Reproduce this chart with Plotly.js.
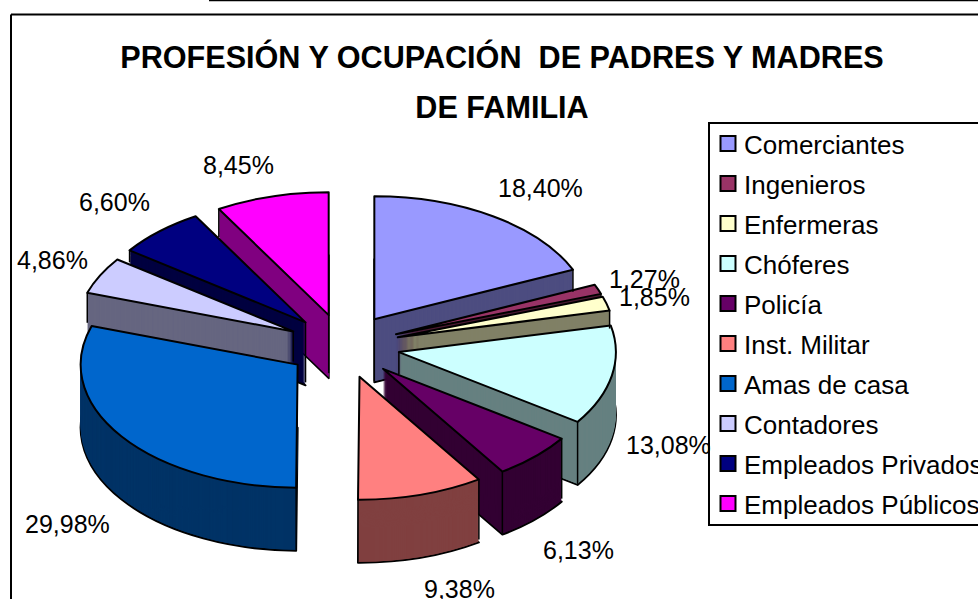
<!DOCTYPE html>
<html><head><meta charset="utf-8">
<script src="https://cdn.plot.ly/plotly-3.0.1.min.js"></script>
<style>html,body{margin:0;padding:0;background:#fff;overflow:hidden}
#c{width:978px;height:599px}
.pielayer path{vector-effect:non-scaling-stroke}</style></head>
<body><div id="c"></div>
<script>
const categories=["Comerciantes","Ingenieros","Enfermeras","Chóferes","Policía","Inst. Militar","Amas de casa","Contadores","Empleados Privados","Empleados Públicos"];
const percentages=[18.40,1.27,1.85,13.08,6.13,9.38,29.98,4.86,6.60,8.45];
const topColors=["#9999FF","#993366","#FFFFCC","#CCFFFF","#660066","#FF8080","#0066CC","#CCCCFF","#000080","#FF00FF"];
const sideColors=["#4D4D80","#4D1A33","#808066","#668080","#330033","#804040","#003366","#666680","#000040","#800080"];
const labelPositions=[[540,188],[644,279],[654,297],[668,445],[578,550],[459,589],[67,524],[52,260],[114,202],[238,165]];
// visible length of the vertical wall edge at each slice's [start corner, end corner, tip]; 0 = hidden
const edgeLengths=[[0,22,62],[0,4,0],[0,18,0],[0,62,22],[60,62,0],[60,62,0],[62,0,0],[30,0,30],[12,0,60],[28,0,58]];
const W=978,H=599,explode=0.26,depth=63;
const rx=217,ry=123,cx=343.5,cy=346;
const px=x=>x/W, py=y=>1-y/H;

const traces=[];
for(let k=depth;k>=0;k--){
  const isTop=k===0,isBottom=k===depth;
  traces.push({type:'pie',labels:categories,values:percentages,sort:false,direction:'clockwise',rotation:0,
    pull:explode,textinfo:'none',hoverinfo:isTop?'label+percent':'skip',showlegend:isTop,
    domain:{x:[0,1],y:[0,1]},
    marker:{colors:isTop?topColors:sideColors,line:{color:isTop||isBottom?'#000':'rgba(0,0,0,0)',width:isTop||isBottom?2:0}}});
}
const annotations=percentages.map((v,i)=>({xref:'paper',yref:'paper',x:px(labelPositions[i][0]),y:py(labelPositions[i][1]),
  xanchor:'center',yanchor:'middle',showarrow:false,text:v.toFixed(2).replace('.',',')+'%',font:{size:25,color:'#000'}}));
const line=(x0,y0,x1,y1,w)=>({type:'line',xref:'paper',yref:'paper',x0:px(x0),y0:py(y0),x1:px(x1),y1:py(y1),line:{color:'#000',width:w}});
// vertical wall edges, derived from the slice angles
const edges=[];
{
  const total=percentages.reduce((a,b)=>a+b,0);let acc=0;
  percentages.forEach((v,i)=>{
    const t1=acc/total*2*Math.PI,t2=(acc+v)/total*2*Math.PI,m=(t1+t2)/2;acc+=v;
    const tx=cx+rx*explode*Math.sin(m),ty=cy-ry*explode*Math.cos(m);
    const pts=[[tx+rx*Math.sin(t1),ty-ry*Math.cos(t1)],[tx+rx*Math.sin(t2),ty-ry*Math.cos(t2)],[tx,ty]];
    pts.forEach((p,j)=>{const l=edgeLengths[i][j];if(l>0)edges.push(line(p[0],p[1],p[0],p[1]+l,1.5));});
  });
}
const layout={width:W,height:H,margin:{l:0,r:0,t:0,b:0,autoexpand:false},paper_bgcolor:'#fff',
  font:{family:'"Liberation Sans",Arial,sans-serif',color:'#000'},
  title:{text:'PROFESIÓN Y OCUPACIÓN  DE PADRES Y MADRES<br>DE FAMILIA',x:502/W,xanchor:'center',y:py(57),yanchor:'middle',font:{size:32,color:'#000',family:'"Liberation Sans",Arial,sans-serif',weight:700}},
  showlegend:true,
  legend:{x:px(708),y:py(122),xanchor:'left',yanchor:'top',font:{size:26,color:'#000'},bordercolor:'#000',borderwidth:2,bgcolor:'#fff',traceorder:'normal'},
  annotations,
  shapes:[line(11,14.5,978,14.5,2),line(11,14.5,11,599,2),line(209,0.5,978,0.5,1.5)].concat(edges)};
Plotly.newPlot('c',traces,layout,{displayModeBar:false}).then(gd=>{
  const R=Math.min(W,H)/2/(1+explode),sx=rx/R,sy=ry/R;
  gd.querySelectorAll('.pielayer .trace').forEach((g,i)=>{
    const k=depth-i;
    g.setAttribute('transform',`translate(${cx-W/2*sx},${cy-H/2*sy+k}) scale(${sx},${sy})`);
  });
  // title: two lines 50px apart, narrowed like the reference
  const t=gd.querySelector('.gtitle');
  if(t){
    t.setAttribute('x',502);t.setAttribute('y',68);
    t.querySelectorAll('tspan.line').forEach((s,i)=>{s.setAttribute('x',502);s.setAttribute('y',68);s.setAttribute('dy',i?'50px':'0');});
    t.setAttribute('transform','translate(502,0) scale(0.957,1) translate(-502,0)');
  }
  // legend rows 40px apart, larger swatches
  const rows=[...gd.querySelectorAll('.legend .traces')];
  const parse=e=>{const m=/translate\(\s*([-\d.]+)[ ,]+([-\d.]+)/.exec(e.getAttribute('transform')||'');return m?[+m[1],+m[2]]:[0,0];};
  const first=rows.length?parse(rows[0]):[0,0];
  rows.forEach((r,i)=>{
    const p=parse(r);
    r.setAttribute('transform',`translate(${p[0]},${first[1]-4+i*40})`);
    const tx=r.querySelector('text.legendtext');if(tx)tx.setAttribute('x',34);
    const sw=r.querySelector('path.legendpie');
    if(sw){sw.setAttribute('d','M7.5,7.5H-7.5V-7.5H7.5Z');sw.setAttribute('transform','translate(18,0)');sw.style.strokeWidth='2px';}
  });
  const bg=gd.querySelector('.legend .bg');if(bg)bg.setAttribute('height',402);
  gd.querySelectorAll('clipPath[id^="legend"] rect').forEach(r=>r.setAttribute('height',402));
});
</script></body></html>
